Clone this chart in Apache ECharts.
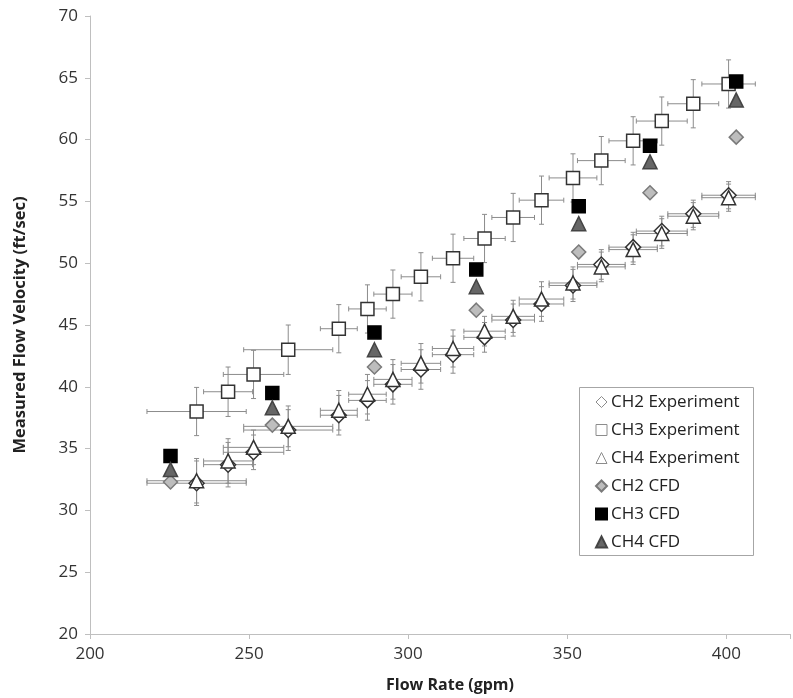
<!DOCTYPE html>
<html>
<head>
<meta charset="utf-8">
<script src="https://cdn.jsdelivr.net/npm/echarts@6/dist/echarts.min.js"></script>
<style>
    html, body { margin: 0; padding: 0; background: #fff; }
    #chart { width: 793px; height: 698px; }
</style>
</head>
<body>
<div id="chart"></div>
<script>
// experiment points (shared flow rates for CH2/CH3/CH4)
const xExp = [233.5, 243.4, 251.4, 262.3, 278.2, 287.2, 295.2, 304.0, 314.1, 324.0, 333.0, 341.9, 351.8, 360.7, 370.7, 379.7, 389.6, 400.7];
const ch2Exp = [32.2, 33.7, 34.7, 36.5, 37.7, 38.9, 40.2, 41.4, 42.6, 44.0, 45.4, 46.7, 48.2, 49.9, 51.3, 52.6, 54.0, 55.5];
const ch3Exp = [38.0, 39.6, 41.0, 43.0, 44.7, 46.3, 47.5, 48.9, 50.4, 52.0, 53.7, 55.1, 56.9, 58.3, 59.9, 61.5, 62.9, 64.5];
const ch4Exp = [32.4, 34.0, 35.1, 36.8, 38.1, 39.4, 40.6, 41.9, 43.1, 44.5, 45.7, 47.1, 48.4, 49.7, 51.1, 52.4, 53.8, 55.3];

// error bar half-widths
const xErr = [15.6, 7.7, 9.5, 14.0, 5.8, 5.9, 6.0, 6.2, 6.5, 6.5, 6.7, 7.0, 7.5, 7.5, 7.6, 8.0, 8.0, 8.4];
const ch3YErr = [1.95, 2.0, 1.95, 2.0, 1.95, 1.95, 1.95, 1.95, 1.95, 1.95, 1.95, 1.95, 1.95, 1.95, 1.95, 1.95, 1.95, 1.95];
const ch24YErr = [1.8, 1.8, 1.4, 1.65, 1.6, 1.6, 1.6, 1.6, 1.5, 1.2, 1.3, 1.4, 1.3, 1.2, 1.2, 1.2, 1.1, 1.1];

// CFD points
const xCfd = [225.3, 257.3, 289.4, 321.4, 353.6, 376.0, 403.1];
const ch2Cfd = [32.3, 36.9, 41.6, 46.2, 50.9, 55.7, 60.2];
const ch3Cfd = [34.4, 39.5, 44.4, 49.5, 54.6, 59.5, 64.7];
const ch4Cfd = [33.3, 38.3, 43.0, 48.1, 53.2, 58.2, 63.2];

const xTicks = [200, 250, 300, 350, 400];
const legendNames = ['CH2 Experiment', 'CH3 Experiment', 'CH4 Experiment', 'CH2 CFD', 'CH3 CFD', 'CH4 CFD'];

const FONT = 'Open Sans';

function pairs(xs, ys) {
    return xs.map(function (x, i) { return [x, ys[i]]; });
}

function errRows(xs, ys, xe, ye) {
    return xs.map(function (x, i) { return [x, ys[i], xe[i], ye[i]]; });
}

function renderErrorBar(params, api) {
    let x = api.value(0), y = api.value(1), xe = api.value(2), ye = api.value(3);
    let l = api.coord([x - xe, y]), r = api.coord([x + xe, y]);
    let t = api.coord([x, y + ye]), b = api.coord([x, y - ye]);
    let c = 2.5;
    let style = {stroke: '#8c8c8c', lineWidth: 1};
    let seg = function (x1, y1, x2, y2) {
        return {type: 'line', shape: {x1: x1, y1: y1, x2: x2, y2: y2}, style: style};
    };
    return {
        type: 'group',
        children: [
            seg(l[0], l[1], r[0], r[1]),
            seg(l[0], l[1] - c, l[0], l[1] + c),
            seg(r[0], r[1] - c, r[0], r[1] + c),
            seg(t[0], t[1], b[0], b[1]),
            seg(t[0] - c, t[1], t[0] + c, t[1]),
            seg(b[0] - c, b[1], b[0] + c, b[1])
        ]
    };
}

function errSeries(name, rows) {
    return {
        type: 'custom',
        name: name,
        renderItem: renderErrorBar,
        encode: {x: 0, y: 1},
        data: rows,
        z: 1,
        silent: true
    };
}

function scatter(name, data, symbol, size, fill, border, z) {
    return {
        type: 'scatter',
        name: name,
        data: data,
        symbol: symbol,
        symbolSize: size,
        itemStyle: {color: fill, borderColor: border, borderWidth: 1.5, opacity: 1},
        z: z
    };
}

// legend icons of the open markers are drawn thin and grey
let openIcon = {color: '#fff', borderColor: '#8c8c8c', borderWidth: 1};
let legendData = legendNames.map(function (n, i) {
    return i < 3 ? {name: n, itemStyle: openIcon} : {name: n};
});

let chart = echarts.init(document.getElementById('chart'), null, {renderer: 'canvas'});

let option = {
    animation: false,
    backgroundColor: '#fff',
    textStyle: {fontFamily: FONT},
    grid: {left: 90, right: 0, top: 16, bottom: 62},
    graphic: [{
        type: 'rect',
        left: 579, top: 387,
        shape: {width: 174, height: 168},
        style: {fill: '#fff', stroke: '#a6a6a6', lineWidth: 1},
        z: 5
    }],
    legend: {
        data: legendData,
        orient: 'vertical',
        left: 595, top: 393,
        itemWidth: 11, itemHeight: 11,
        itemGap: 10,
        padding: 0,
        textStyle: {fontFamily: FONT, fontSize: 17, lineHeight: 18, color: '#222', padding: [0, 0, 0, -1]},
        z: 10
    },
    xAxis: {
        type: 'value',
        min: 200, max: 420, interval: 50,
        name: 'Flow Rate (gpm)',
        nameLocation: 'middle',
        nameGap: 43,
        nameTextStyle: {fontFamily: FONT, fontSize: 16, fontWeight: 'bold', color: '#222', padding: [0, 0, 0, 20]},
        axisLine: {show: true, lineStyle: {color: '#bfbfbf', width: 1}},
        axisTick: {show: true, length: 5, lineStyle: {color: '#bfbfbf'}},
        axisLabel: {
            fontFamily: FONT, fontSize: 17, color: '#333', margin: 12,
            formatter: function (v) { return xTicks.indexOf(v) >= 0 ? String(v) : ''; }
        },
        splitLine: {show: false}
    },
    yAxis: {
        type: 'value',
        min: 20, max: 70, interval: 5,
        name: 'Measured Flow Velocity (ft/sec)',
        nameLocation: 'middle',
        nameGap: 61,
        nameTextStyle: {fontFamily: FONT, fontSize: 16.5, fontWeight: 'bold', color: '#222'},
        axisLine: {show: true, lineStyle: {color: '#bfbfbf', width: 1}},
        axisTick: {show: true, length: 5, lineStyle: {color: '#bfbfbf'}},
        axisLabel: {fontFamily: FONT, fontSize: 17, color: '#333', margin: 12},
        splitLine: {show: false}
    },
    series: [
        errSeries('ch2 err', errRows(xExp, ch2Exp, xErr, ch24YErr)),
        errSeries('ch4 err', errRows(xExp, ch4Exp, xErr, ch24YErr)),
        errSeries('ch3 err', errRows(xExp, ch3Exp, xErr, ch3YErr)),
        scatter('CH2 Experiment', pairs(xExp, ch2Exp), 'diamond', 15, '#fff', '#333', 2),
        scatter('CH4 Experiment', pairs(xExp, ch4Exp), 'triangle', 14, '#fff', '#333', 3),
        scatter('CH3 Experiment', pairs(xExp, ch3Exp), 'rect', 13, '#fff', '#333', 3),
        scatter('CH2 CFD', pairs(xCfd, ch2Cfd), 'diamond', 14, '#bdbdbd', '#7a7a7a', 4),
        scatter('CH3 CFD', pairs(xCfd, ch3Cfd), 'rect', 13, '#000', '#000', 4),
        scatter('CH4 CFD', pairs(xCfd, ch4Cfd), 'triangle', 14, '#666', '#444', 4)
    ]
};

chart.setOption(option);
</script>
</body>
</html>
